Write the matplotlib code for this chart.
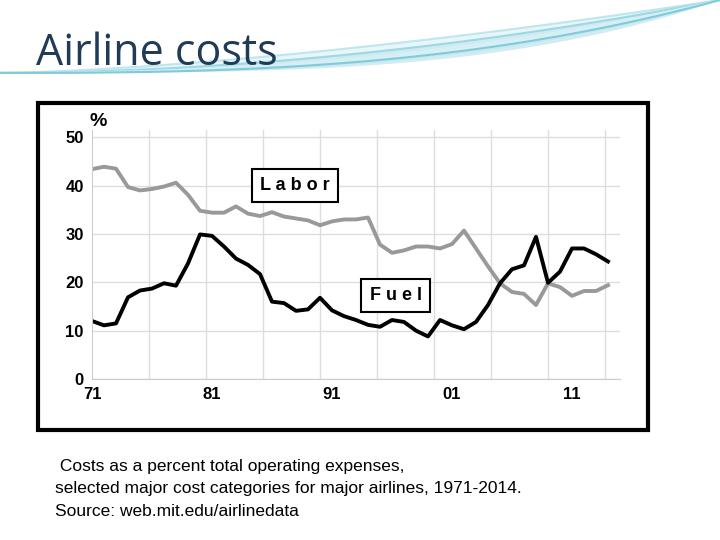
import numpy as np
import matplotlib.pyplot as plt
from matplotlib.patches import Rectangle

years = list(range(1971, 2015))
labor = [43.4, 43.9, 43.5, 39.7, 39.0, 39.3, 39.8, 40.6, 38.1, 34.8,
         34.4, 34.4, 35.7, 34.2, 33.7, 34.5, 33.6, 33.2, 32.8, 31.8,
         32.6, 33.0, 33.0, 33.4, 27.8, 26.1, 26.6, 27.4, 27.4, 27.0,
         27.9, 30.7, 27.0, 23.3, 19.8, 18.0, 17.6, 15.3, 19.8, 19.0,
         17.2, 18.2, 18.2, 19.4]
fuel = [12.0, 11.1, 11.5, 16.9, 18.3, 18.7, 19.8, 19.3, 23.9, 29.9,
        29.6, 27.4, 24.9, 23.6, 21.7, 16.0, 15.7, 14.1, 14.4, 16.8,
        14.2, 13.0, 12.2, 11.2, 10.8, 12.2, 11.8, 10.0, 8.8, 12.2,
        11.1, 10.3, 11.8, 15.3, 19.8, 22.7, 23.5, 29.4, 19.9, 22.2,
        27.0, 27.0, 25.8, 24.3]
xtick_pos = [1971, 1981, 1991, 2001, 2011]
xtick_labels = ["71", "81", "91", "01", "11"]
caption = [" Costs as a percent total operating expenses,",
           "selected major cost categories for major airlines, 1971-2014.",
           "Source: web.mit.edu/airlinedata"]

plt.rcParams['font.family'] = ['Liberation Sans', 'DejaVu Sans']
fig = plt.figure(figsize=(7.2, 5.4), dpi=100)

# decorative swooshes at the top
sw = fig.add_axes([0, 0.85, 1, 0.15])
sw.set_axis_off()
sw.set_xlim(0, 1)
sw.set_ylim(0, 1)
t = np.linspace(0, 1, 100)
for k, c in enumerate(["#bfe6ee", "#9dd8e4", "#d5eff4", "#7fcadb"]):
    sw.plot(t, 0.1 + 0.9 * t ** (1.5 + 0.4 * k), color=c, lw=1.5)
    sw.fill_between(t, 0.1 + 0.9 * t ** (1.5 + 0.4 * k), 0.1 + 0.9 * t ** (2.2 + 0.4 * k),
                    color=c, alpha=0.35, lw=0)

fig.text(0.05, 0.9, "Airline costs", fontsize=31, color="#1f3b57",
         va="center", family=['Open Sans', 'DejaVu Sans'])

fig.patches.append(Rectangle((38 / 720, 1 - 430 / 540), 610 / 720, 327 / 540,
                             transform=fig.transFigure, fill=False,
                             edgecolor="black", lw=3))

ax = fig.add_axes([92 / 720, 1 - 379 / 540, 528 / 720, 249 / 540])
ax.plot(years, labor, color="#999999", lw=2.8)
ax.plot(years, fuel, color="black", lw=2.8)
ax.set_xlim(1971, 2015)
ax.set_ylim(0, 51.5)
ax.set_xticks(xtick_pos)
ax.set_xticklabels(xtick_labels, fontsize=12, fontweight="bold")
ax.set_xticks(np.arange(1971, 2016, 4.75), minor=True)
ax.set_yticks(range(0, 51, 10))
ax.set_yticklabels([str(v) for v in range(0, 51, 10)], fontsize=12, fontweight="bold")
ax.set_yticks(range(5, 51, 10), minor=True)
ax.grid(True, which="major", axis="y", color="#dddddd", lw=1)
ax.grid(True, which="minor", axis="x", color="#dddddd", lw=1)
ax.tick_params(which="both", length=0, pad=6)
for side in ["top", "right"]:
    ax.spines[side].set_visible(False)
ax.spines["left"].set_color("#cccccc")
ax.spines["bottom"].set_color("#cccccc")
ax.text(-0.005, 1.0, "%", transform=ax.transAxes, fontsize=14, fontweight="bold", va="bottom")

box = dict(boxstyle="square,pad=0.45", fc="white", ec="black", lw=1.5)
ax.text(1987.9, 40.0, "L a b o r", fontsize=13, fontweight="bold", ha="center", va="center", bbox=box)
ax.text(1996.3, 17.2, "F u e l", fontsize=13, fontweight="bold", ha="center", va="center", bbox=box)

for i, line in enumerate(caption):
    fig.text(55 / 720, 1 - (467 + 22 * i) / 540, line, fontsize=12.5, va="center")

fig.savefig("out.png", dpi=100)
